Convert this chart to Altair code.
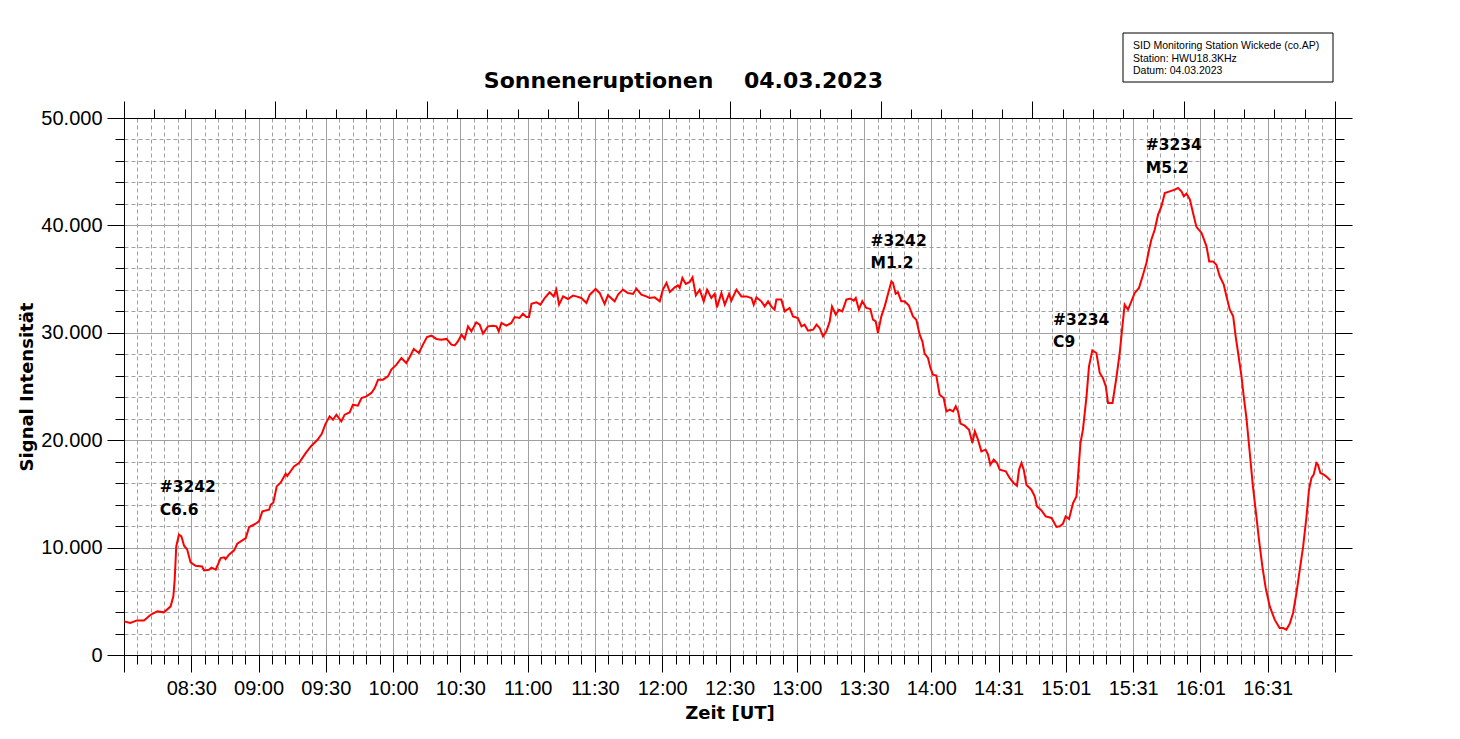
import altair as alt
import pandas as pd

# ---- data: minutes after 08:00 UT and signal intensity ----
seg1_min = [0, 2.8, 5.8, 8.9, 11.9, 14.9, 17.8, 20.8, 22.0, 22.6,
            23.3, 24.5, 25.6, 26.8, 28.2, 29.7, 31.9, 34.8, 35.7, 37.9,
            39.0, 40.9, 43.1, 44.6, 45.3, 46.8, 49.1, 50.5, 54.3, 55.8,
            58.7, 60.2, 61.7, 64.7, 65.4, 66.6, 68.1, 69.9, 72.1, 72.8,
            75.8, 78.0, 81.0, 83.3, 86.3, 88.2, 89.8]
seg1_val = [3130, 2980, 3220, 3220, 3750, 4060, 3970, 4530, 5460, 7010,
            10110, 11200, 11050, 10180, 9800, 8620, 8310, 8250, 7880, 7940,
            8130, 7940, 9030, 9100, 8930, 9340, 9740, 10360, 10890, 11920,
            12220, 12440, 13370, 13530, 13990, 14200, 15700, 16070, 16880, 16660,
            17560, 17870, 18800, 19420, 20040, 20600, 21500]

seg2_min = [91.7, 93.2, 94.7, 96.9, 98.4, 100.6, 102.1, 104.3, 105.9, 108.1,
            110.3, 111.8, 113.3, 115.5, 117.7, 119.2, 121.5, 123.7, 125.9, 127.4,
            129.2, 131.5, 133.3, 135.1, 137.1, 139.3, 141.5, 143.8, 146.0, 147.5,
            148.9, 150.5, 151.9, 153.4, 154.9, 157.1, 158.6, 160.1, 162.3, 164.5,
            166.1, 167.1, 168.3, 170.5, 172.7, 174.2, 176.4, 177.9, 179.4, 180.6,
            181.7, 183.9, 185.7, 187.6, 189.8, 191.6, 192.8, 194.0, 195.8, 198.0,
            200.2, 201.7, 203.9, 206.2, 207.7, 210.3, 212.1]
seg2_val = [22220, 21910, 22380, 21750, 22380, 22590, 23310, 23210, 23930, 24080,
            24400, 24860, 25640, 25640, 25940, 26570, 27030, 27660, 27190, 27750,
            28490, 28120, 28900, 29610, 29730, 29430, 29360, 29430, 28900, 28830,
            29200, 29830, 29430, 30600, 30130, 30970, 30760, 29920, 30600, 30660,
            30600, 30130, 30920, 30660, 30920, 31470, 31380, 31780, 31470, 31470,
            32710, 32830, 32620, 33240, 33770, 33390, 34020, 32620, 33390, 33150,
            33460, 33390, 33240, 32780, 33550, 34080, 33710]

seg3_min = [214.3, 215.8, 218.8, 220.3, 222.5, 224.7, 227.0, 228.5, 230.7, 232.9,
            234.4, 236.6, 238.9, 240.3, 241.9, 243.4, 245.6, 247.0, 247.8, 249.0,
            250.5, 252.3, 253.5, 255.0, 256.7, 258.5, 260.0, 261.9, 263.4, 264.4,
            266.4, 267.9, 269.8, 270.8, 273.1, 275.3, 277.5, 279.8, 280.8, 282.0,
            284.2, 285.7, 287.2, 288.6, 290.1, 290.9, 293.1, 294.6, 296.8, 298.3,
            300.5, 302.1, 303.5, 305.0, 307.3, 308.8, 310.2, 311.7, 313.2, 314.7,
            315.7, 317.4, 318.8, 320.3, 322.1, 323.9, 325.4, 326.3, 327.7, 329.2,
            331.0, 332.8, 334.0]
seg3_val = [32690, 33490, 32930, 33550, 34020, 33710, 33620, 34110, 33550, 33390,
            33240, 33300, 32930, 34020, 34640, 33800, 34230, 34420, 34180, 35110,
            34550, 34730, 35160, 33490, 34020, 32930, 34020, 33240, 33620, 32370,
            33710, 32620, 33620, 32990, 34020, 33390, 33390, 33240, 32620, 33300,
            32930, 32460, 32930, 32460, 32150, 33090, 33090, 32000, 32310, 31530,
            31380, 30600, 30760, 30200, 30290, 30760, 30450, 29670, 30130, 31060,
            32460, 31690, 32150, 32000, 33090, 33180, 32990, 33240, 32150, 32930,
            32310, 32220, 31220]

seg4_min = [335.2, 336.2, 337.7, 339.2, 340.7, 342.2, 342.9, 344.1, 345.1, 346.6,
            348.1, 350.0, 351.8, 353.3, 354.8, 356.0, 357.0, 358.5, 359.6, 360.7,
            362.2, 363.7, 365.5, 366.7, 368.2, 369.7, 370.9, 371.9, 373.0, 374.9,
            376.8, 378.3, 379.4, 380.8, 382.3, 384.2, 385.3, 386.3, 387.8, 389.3,
            390.5, 393.2, 394.9, 396.7, 398.2, 399.1, 400.2, 401.2, 402.4, 404.6,
            406.1, 407.1, 409.1, 411.0, 413.6, 415.8, 417.3, 418.7, 419.9, 421.4,
            423.2, 424.7, 425.4, 426.5, 427.6, 429.2, 430.3, 431.8, 433.6]
seg4_val = [31060, 29980, 31530, 32460, 33640, 34790, 34640, 33640, 33770, 32930,
            32930, 32530, 31530, 31220, 29830, 29200, 28060, 27660, 26730, 26100,
            26010, 24240, 23930, 22680, 22840, 22680, 23150, 22680, 21540, 21350,
            20980, 19740, 20820, 20050, 18960, 19120, 18650, 17720, 18190, 17880,
            17260, 17100, 16480, 16020, 15760, 17260, 17880, 17260, 15860, 15390,
            14770, 13840, 13460, 12910, 12760, 11920, 11980, 12230, 12910, 12660,
            14150, 14770, 16630, 19740, 20980, 24080, 26870, 28360, 28120]

seg5_min = [435.1, 436.5, 437.8, 438.8, 440.8, 442.5, 444.0, 445.2, 446.2, 447.7,
            449.2, 450.7, 452.6, 454.4, 455.9, 457.1, 458.1, 459.6, 461.1, 462.6,
            464.1, 466.3, 468.6, 470.0, 471.5, 472.6, 473.8, 475.3, 476.7, 478.2,
            480.5, 482.7, 483.9, 485.6, 487.1, 488.6, 490.4, 491.6, 493.1, 494.6,
            495.7, 496.8, 498.3, 499.3, 500.5]
seg5_val = [26260, 25790, 25010, 23470, 23470, 25790, 28120, 30600, 32620, 32150,
            32930, 33710, 34180, 35410, 36500, 37740, 38670, 39600, 41000, 41770,
            43020, 43170, 43330, 43490, 43170, 42710, 42960, 42400, 41160, 39860,
            39300, 38050, 36650, 36650, 36340, 35260, 34480, 33390, 32150, 31530,
            29670, 28120, 25940, 24080, 22070]

seg6_min = [502.0, 503.4, 504.6, 506.1, 507.6, 509.1, 510.9, 513.1, 515.3, 516.8,
            518.3, 519.8, 521.3, 522.8, 524.3, 525.8, 527.3, 528.4, 529.5, 530.5,
            531.7, 532.4, 533.5, 535.0, 536.4, 537.9]
seg6_val = [18810, 15700, 13530, 10740, 8250, 6240, 4530, 3290, 2510, 2510,
            2360, 2910, 3910, 5770, 7940, 10110, 12910, 15390, 16480, 16790,
            17880, 17720, 16950, 16790, 16580, 16260]

segments = [(seg1_min, seg1_val), (seg2_min, seg2_val), (seg3_min, seg3_val),
            (seg4_min, seg4_val), (seg5_min, seg5_val), (seg6_min, seg6_val)]
minutes, signal = [], []
for m, v in segments:
    assert len(m) == len(v)
    minutes += m
    signal += v

# tick labels (bottom axis, one every 30 minutes from 08:30)
x_labels = ["08:30", "09:00", "09:30", "10:00", "10:30", "11:00", "11:30", "12:00",
            "12:30", "13:00", "13:30", "14:00", "14:31", "15:01", "15:31", "16:01", "16:31"]

# flare annotations
ann_text = ["#3242", "C6.6", "#3242", "M1.2", "#3234", "C9", "#3234", "M5.2"]
ann_min = [15.9, 15.9, 332.9, 332.9, 414.3, 414.3, 455.6, 455.6]
ann_val = [15200, 13000, 38100, 36000, 30760, 28680, 47050, 44910]

info_lines = ["SID Monitoring Station Wickede (co.AP)", "Station: HWU18.3KHz", "Datum: 04.03.2023"]
title_text = "Sonneneruptionen\u00a0\u00a0\u00a0\u00a004.03.2023"

# ---- tick positions ----
x_major = list(range(0, 541, 30))
x_minor = [m for m in range(0, 541, 6) if m % 30 != 0]
top_major = [i * 67.5 for i in range(9)]
top_minor = [i * 13.5 for i in range(41) if i % 5 != 0]
y_major = list(range(0, 50001, 10000))
y_minor = [v for v in range(0, 50001, 2000) if v % 10000 != 0]

df = pd.DataFrame({"t": minutes, "v": signal})
ann = pd.DataFrame({"label": ann_text, "t": ann_min, "v": ann_val})

XS = alt.Scale(domain=[0, 540], nice=False, zero=False)
YS = alt.Scale(domain=[0, 50000], nice=False, zero=True)
GRID = "#a0a0a0"
LABEL_FONT = "Liberation Sans"
BOLD_FONT = "DejaVu Sans"

label_list = [""] + x_labels + [""]
x_label_expr = "[" + ",".join("'%s'" % s for s in label_list) + "][round(datum.value / 30)]"
y_label_expr = "replace(format(datum.value, ','), ',', '.')"

base = alt.Chart(df)

minor_bl = base.mark_line(strokeOpacity=0).encode(
    x=alt.X("t:Q", scale=XS, axis=alt.Axis(
        orient="bottom", values=x_minor, tickSize=9, tickColor="black", tickWidth=1,
        labels=False, domain=False, grid=True, gridColor=GRID, gridDash=[4, 3],
        gridWidth=1, title=None)),
    y=alt.Y("v:Q", scale=YS, axis=alt.Axis(
        orient="left", values=y_minor, tickSize=9, tickColor="black", tickWidth=1,
        labels=False, domain=False, grid=True, gridColor=GRID, gridDash=[4, 3],
        gridWidth=1, title=None)),
)

minor_tr = base.mark_line(strokeOpacity=0).encode(
    x=alt.X("t:Q", scale=XS, axis=alt.Axis(
        orient="top", values=top_minor, tickSize=9, tickColor="black", tickWidth=1,
        labels=False, domain=True, domainColor="black", domainWidth=1, grid=False, title=None)),
    y=alt.Y("v:Q", scale=YS, axis=alt.Axis(
        orient="right", values=y_minor, tickSize=9, tickColor="black", tickWidth=1,
        labels=False, domain=True, domainColor="black", domainWidth=1, grid=False, title=None)),
)

major_tr = base.mark_line(strokeOpacity=0).encode(
    x=alt.X("t:Q", scale=XS, axis=alt.Axis(
        orient="top", values=top_major, tickSize=17, tickColor="black", tickWidth=1,
        labels=False, domain=False, grid=False, title=None)),
    y=alt.Y("v:Q", scale=YS, axis=alt.Axis(
        orient="right", values=y_major, tickSize=17, tickColor="black", tickWidth=1,
        labels=False, domain=False, grid=False, title=None)),
)

line = base.mark_line(color="#ff0000", strokeWidth=2).encode(
    x=alt.X("t:Q", scale=XS, axis=alt.Axis(
        orient="bottom", values=x_major, tickSize=17, tickColor="black", tickWidth=1,
        labelExpr=x_label_expr, labelFont=LABEL_FONT, labelFontSize=20, labelColor="black",
        labelPadding=6, labelFlush=False, labelOverlap=False,
        domain=True, domainColor="black", domainWidth=1,
        grid=True, gridColor=GRID, gridWidth=1,
        title="Zeit [UT]", titleFont=BOLD_FONT, titleFontSize=18, titleFontWeight="bold",
        titleColor="black", titlePadding=6)),
    y=alt.Y("v:Q", scale=YS, axis=alt.Axis(
        orient="left", values=y_major, tickSize=17, tickColor="black", tickWidth=1,
        labelExpr=y_label_expr, labelFont=LABEL_FONT, labelFontSize=20, labelColor="black",
        labelPadding=5, labelFlush=False, labelOverlap=False,
        domain=True, domainColor="black", domainWidth=1,
        grid=True, gridColor=GRID, gridWidth=1,
        title="Signal Intensität", titleFont=BOLD_FONT, titleFontSize=18, titleFontWeight="bold",
        titleColor="black", titlePadding=4)),
)

labels = alt.Chart(ann).mark_text(
    font=BOLD_FONT, fontSize=15.5, fontWeight="bold", color="black",
    align="left", baseline="alphabetic").encode(
    x=alt.X("t:Q", scale=XS, axis=None),
    y=alt.Y("v:Q", scale=YS, axis=None),
    text="label:N",
)

one = pd.DataFrame({"k": [0]})
title = alt.Chart(one).mark_text(
    text=title_text, font=BOLD_FONT, fontSize=22, fontWeight="bold", color="black",
    align="center", baseline="alphabetic").encode(
    x=alt.value(559.5), y=alt.value(-29.7))
box = alt.Chart(one).mark_rect(fill="white", stroke="black", strokeWidth=1).encode(
    x=alt.value(999), x2=alt.value(1209), y=alt.value(-85), y2=alt.value(-36))
info = alt.Chart(one).mark_text(
    text=info_lines, font=LABEL_FONT, fontSize=10.5, color="black",
    align="left", baseline="alphabetic", lineHeight=12.65).encode(
    x=alt.value(1009), y=alt.value(-69))

chart = alt.layer(minor_bl, minor_tr, major_tr, line, labels, title, box, info).resolve_axis(
    x="independent", y="independent"
).properties(
    width=1211, height=537,
    autosize="none",
    padding={"left": 116, "top": 110, "right": 110, "bottom": 80},
    background="white",
).configure_view(strokeWidth=0)

chart.save("out.html", embed_options={"renderer": "svg", "actions": False})
